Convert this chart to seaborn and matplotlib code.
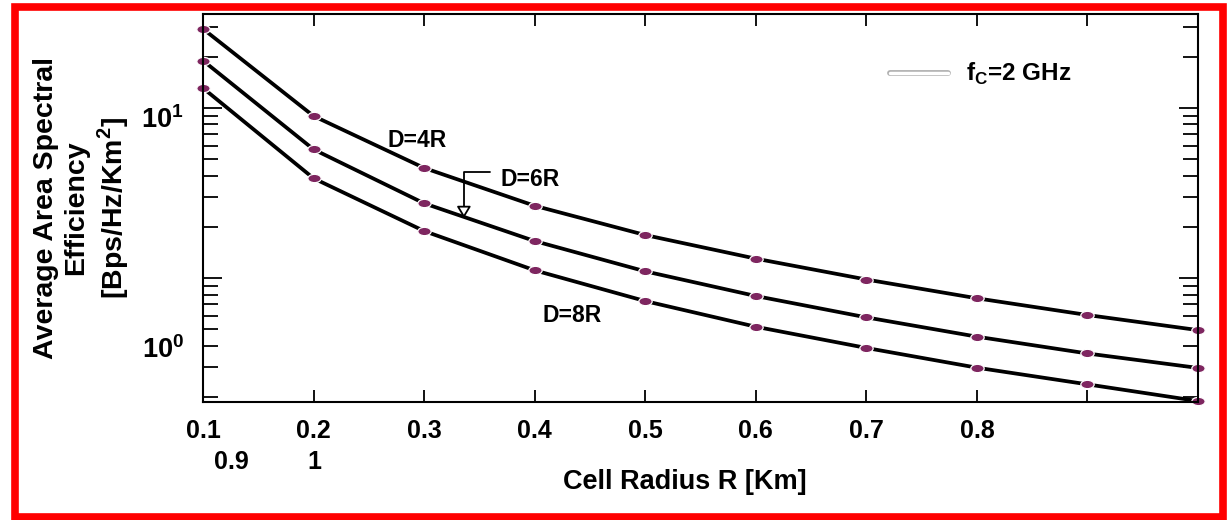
import numpy as np
import pandas as pd
import seaborn as sns
import matplotlib
matplotlib.use("Agg")
import matplotlib.pyplot as plt
from matplotlib.markers import MarkerStyle
from matplotlib.transforms import Affine2D, blended_transform_factory
from matplotlib.ticker import LogLocator, NullFormatter
from matplotlib.lines import Line2D
from matplotlib.patches import Rectangle
import matplotlib.patheffects as pe

# cell radius R [km]
radius = [0.1, 0.2, 0.3, 0.4, 0.5, 0.6, 0.7, 0.8, 0.9, 1.0]
# average area spectral efficiency
ase_4r = [29.2, 8.97, 4.44, 2.66, 1.79, 1.30, 0.98, 0.76, 0.606, 0.494]
ase_6r = [19.0, 5.71, 2.75, 1.65, 1.095, 0.784, 0.587, 0.452, 0.360, 0.296]
ase_8r = [13.1, 3.86, 1.89, 1.11, 0.732, 0.517, 0.388, 0.297, 0.237, 0.189]
curve_names = ["D=4R", "D=6R", "D=8R"]
xtick_labels = ["0.1", "0.2", "0.3", "0.4", "0.5", "0.6", "0.7", "0.8", "", ""]

df = pd.concat([
    pd.DataFrame({"R": radius, "ase": v, "D": n})
    for v, n in zip([ase_4r, ase_6r, ase_8r], curve_names)
])

sns.set_style("white")
plt.rcParams["font.family"] = ["Liberation Sans", "DejaVu Sans"]
plt.rcParams["font.weight"] = "bold"
plt.rcParams["mathtext.fontset"] = "custom"
plt.rcParams["mathtext.rm"] = "Liberation Sans"
plt.rcParams["mathtext.bf"] = "Liberation Sans:bold"
for k in ["text.color", "axes.labelcolor", "xtick.color", "ytick.color"]:
    plt.rcParams[k] = "black"

fig = plt.figure(figsize=(12.27, 5.2), dpi=100)
ax = fig.add_axes([0.1654, 0.2269, 0.811, 0.7462])

oval = MarkerStyle("o", transform=Affine2D().scale(1.6, 1.0))
sns.lineplot(data=df, x="R", y="ase", hue="D", palette=["black"] * 3,
             estimator=None, legend=False, ax=ax, lw=2.7,
             marker=oval, markersize=6, markerfacecolor="#7e2660",
             markeredgecolor="white", markeredgewidth=0.9, clip_on=False)

ax.set_yscale("log")
ax.set_xlim(0.1, 1.0)
ax.set_ylim(0.1866, 35.7)

for s in ax.spines.values():
    s.set_linewidth(1.5)
    s.set_color("black")

ax.set_xticks(radius)
ax.set_xticklabels(xtick_labels)
ax.tick_params(axis="x", which="major", direction="in", length=8.5, width=1.3,
               top=True, bottom=True, labelsize=18, pad=12)
ax.yaxis.set_major_locator(LogLocator(base=10))
ax.yaxis.set_minor_locator(LogLocator(base=10, subs=np.arange(2, 10)))
ax.yaxis.set_major_formatter(NullFormatter())
ax.yaxis.set_minor_formatter(NullFormatter())
ax.tick_params(axis="y", which="major", direction="in", length=14, width=1.3,
               left=True, right=True)
ax.tick_params(axis="y", which="minor", direction="in", length=11, width=1.3,
               left=True, right=True)

# y labels drawn where the original puts them
tr_y = blended_transform_factory(ax.transAxes, ax.transData)
ax.text(-0.019, 8.5, r"$\mathbf{10^{1}}$", transform=tr_y, ha="right", va="center", fontsize=19.5)
ax.text(-0.019, 0.377, r"$\mathbf{10^{0}}$", transform=tr_y, ha="right", va="center", fontsize=19.5)

# second row of x labels
tr_x = blended_transform_factory(ax.transData, ax.transAxes)
ax.text(0.126, -0.155, "0.9", transform=tr_x, ha="center", va="center", fontsize=18)
ax.text(0.201, -0.155, "1", transform=tr_x, ha="center", va="center", fontsize=18)

ax.set_xlabel("Cell Radius R [Km]", fontsize=19.5, fontweight="bold")
ax.xaxis.set_label_coords(0.484, -0.172)
ax.set_ylabel("Average Area Spectral\nEfficiency\n[Bps/Hz/Km$^\\mathbf{2}$]",
              fontsize=20.5, fontweight="bold", linespacing=1.22)
ax.yaxis.set_label_coords(-0.072, 0.5)

ax.text(0.2937, 6.48, "D=4R", ha="center", va="center", fontsize=16.5)
ax.text(0.396, 3.82, "D=6R", ha="center", va="center", fontsize=16.5)
ax.text(0.434, 0.598, "D=8R", ha="center", va="center", fontsize=16.5)
ax.annotate("", xy=(0.336, 2.25), xytext=(0.36, 4.2),
            arrowprops=dict(arrowstyle="-|>,head_length=0.5,head_width=0.3",
                            connectionstyle="angle,angleA=0,angleB=90,rad=0",
                            fc="white", ec="black", lw=1.3, shrinkA=0, shrinkB=0,
                            mutation_scale=14))

handle = Line2D([], [], color="white", lw=2.5,
                path_effects=[pe.withStroke(linewidth=4.2, foreground="#b0b0b0")])
ax.legend([handle], [r"f$_{\mathbf{C}}$=2 GHz"], loc="upper left",
          bbox_to_anchor=(0.668, 0.935), frameon=False, fontsize=17.5,
          handlelength=2.4, handletextpad=0.75)

fig.patches.append(Rectangle((0.0122, 0.0058), 0.9845, 0.9807, transform=fig.transFigure,
                             fill=False, ec="red", lw=5.5))

fig.savefig("out.png", dpi=100)
